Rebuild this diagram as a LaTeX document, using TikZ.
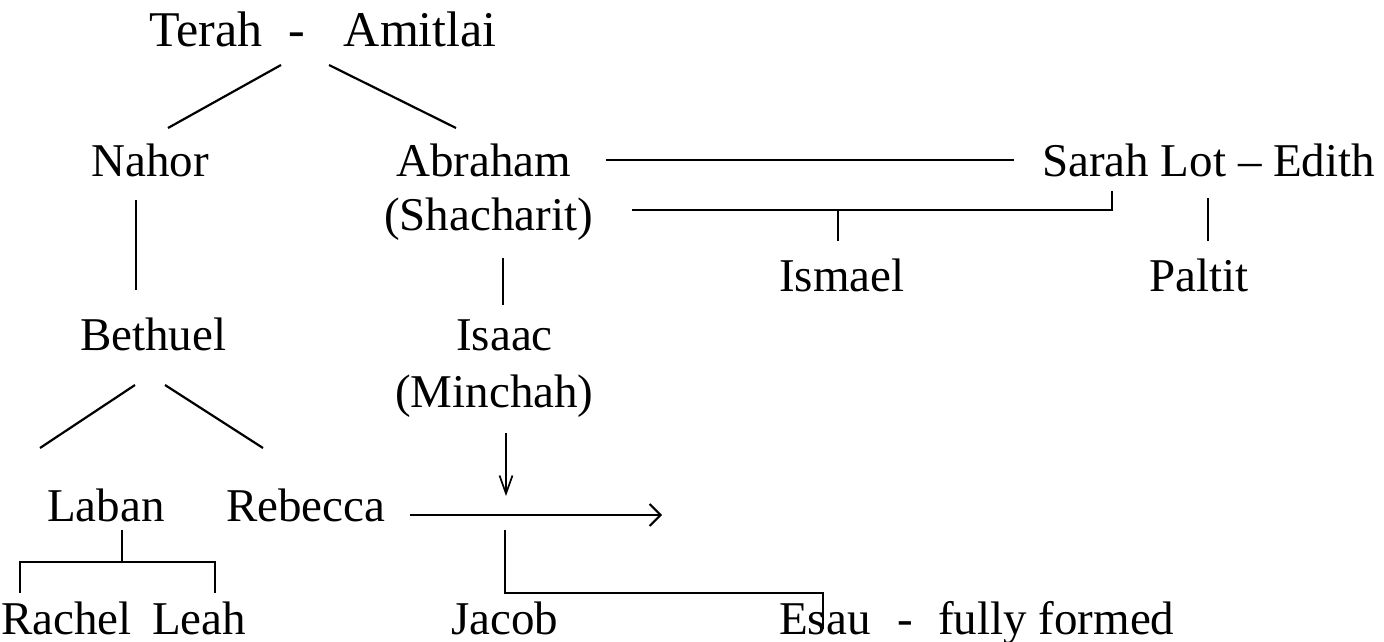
\documentclass[tikz,border=0pt]{standalone}
\usepackage{fontspec}
\setmainfont{Liberation Serif}
\usetikzlibrary{arrows.meta}
\tikzset{
  lbl/.style={anchor=base west, inner sep=0pt, font=\fontsize{47}{56}\selectfont},
  toplbl/.style={anchor=base west, inner sep=0pt, font=\fontsize{50}{60}\selectfont},
  link/.style={line width=2.2pt},
  harrow/.style={line width=2.2pt, -{Straight Barb[length=11pt,width=22pt,line width=2pt]}},
  varrow/.style={line width=1.7pt, -{Straight Barb[length=18pt,width=13pt,line width=1.7pt]}}
}
\begin{document}
\begin{tikzpicture}[x=1pt,y=-1pt]
\useasboundingbox (0,0) rectangle (1384,642);
% texts
\node[toplbl] (terah) at (149,47) {Terah\hspace{26pt}-\hspace{39pt}Amitlai};
\node[lbl] (nahor) at (91,176) {Nahor};
\node[lbl] (abraham) at (396,176) {Abraham};
\node[lbl] (sarah) at (1042,176) {Sarah Lot – Edith};
\node[lbl] (shacharit) at (384,230) {(Shacharit)};
\node[lbl] (ismael) at (779,291) {Ismael};
\node[lbl] (paltit) at (1149,291) {Paltit};
\node[lbl] (bethuel) at (80,350) {Bethuel};
\node[lbl] (isaac) at (456,350) {Isaac};
\node[lbl] (minchah) at (395,407) {(Minchah)};
\node[lbl] (laban) at (47,521) {Laban};
\node[lbl] (rebecca) at (226,521) {Rebecca};
\node[lbl] (rachel) at (1,634) {Rachel};
\node[lbl] (leah) at (152,634) {Leah};
\node[lbl] (jacob) at (451,634) {Jacob};
\node[lbl] (esau) at (779,634) {Esau\hspace{27pt}-\hspace{25pt}fully formed};
% coordinates
\coordinate (t1) at (281,65);  \coordinate (t2) at (168,128);
\coordinate (t3) at (329,65);  \coordinate (t4) at (456,128);
\coordinate (a1) at (606,160); \coordinate (a2) at (1014,160);
\coordinate (s1) at (632,210); \coordinate (s2) at (1112,210); \coordinate (s3) at (1112,191);
\coordinate (i1) at (838,210); \coordinate (i2) at (838,241);
\coordinate (p1) at (1208,198); \coordinate (p2) at (1208,241);
\coordinate (n1) at (136,200); \coordinate (n2) at (136,290);
\coordinate (b1) at (503,258); \coordinate (b2) at (503,305);
\coordinate (e1) at (135,385); \coordinate (e2) at (40,448);
\coordinate (e3) at (165,385); \coordinate (e4) at (263,448);
\coordinate (d1) at (506,433); \coordinate (d2) at (506,496);
\coordinate (r1) at (410,515); \coordinate (r2) at (662,515);
\coordinate (l1) at (122,530); \coordinate (l2) at (122,562);
\coordinate (l3) at (20,562);  \coordinate (l4) at (215,562);
\coordinate (l5) at (20,593);  \coordinate (l6) at (215,593);
\coordinate (j1) at (505,530); \coordinate (j2) at (505,593);
\coordinate (j3) at (823,593); \coordinate (j4) at (823,629);
% connectors
\draw[link] (t1) -- (t2);
\draw[link] (t3) -- (t4);
\draw[link] (a1) -- (a2);
\draw[link] (s1) -- (s2) -- (s3);
\draw[link] (i1) -- (i2);
\draw[link] (p1) -- (p2);
\draw[link] (n1) -- (n2);
\draw[link] (b1) -- (b2);
\draw[link] (e1) -- (e2);
\draw[link] (e3) -- (e4);
\draw[varrow] (d1) -- (d2);
\draw[harrow] (r1) -- (r2);
\draw[link] (l1) -- (l2);
\draw[link] (l5) -- (l3) -- (l4) -- (l6);
\draw[link] (j1) -- (j2) -- (j3) -- (j4);
\end{tikzpicture}
\end{document}
